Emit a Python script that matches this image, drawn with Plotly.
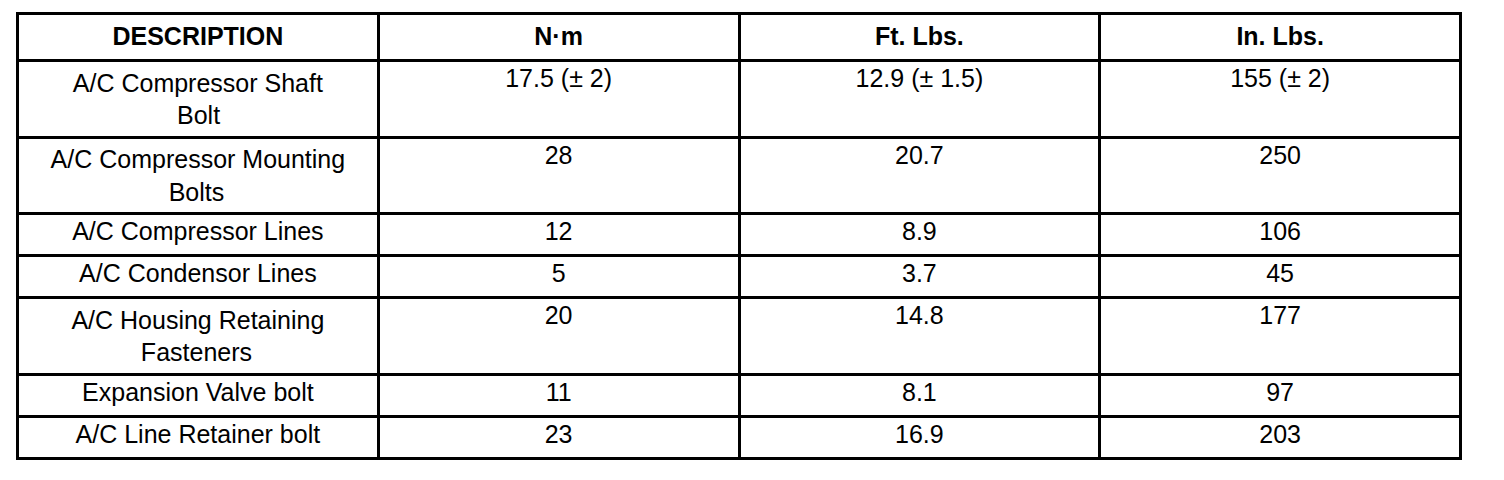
import plotly.graph_objects as go

# Torque specifications table
header_labels = ["DESCRIPTION", "N·m", "Ft. Lbs.", "In. Lbs."]

descriptions = [
    ["A/C Compressor Shaft", "Bolt"],
    ["A/C Compressor Mounting", "Bolts"],
    ["A/C Compressor Lines"],
    ["A/C Condensor Lines"],
    ["A/C Housing Retaining", "Fasteners"],
    ["Expansion Valve bolt"],
    ["A/C Line Retainer bolt"],
]
newton_metres = ["17.5 (± 2)", "28", "12", "5", "20", "11", "23"]
foot_pounds = ["12.9 (± 1.5)", "20.7", "8.9", "3.7", "14.8", "8.1", "16.9"]
inch_pounds = ["155 (± 2)", "250", "106", "45", "177", "97", "203"]

FONT = "Liberation Sans, Arial, Helvetica, sans-serif"

# rough Arial advance widths (1/1000 em), used to centre wrapped lines,
# since plotly tables left-align the lines of a multi-line cell
ARIAL_W = {" ": 278, "/": 278, "A": 667, "B": 667, "C": 722, "F": 611,
           "H": 722, "M": 833, "R": 722, "S": 667, "a": 556, "b": 556,
           "e": 556, "f": 278, "g": 556, "h": 556, "i": 222, "l": 222,
           "m": 833, "n": 556, "o": 556, "p": 556, "r": 333, "s": 500,
           "t": 278, "u": 556}


def text_width(s):
    return sum(ARIAL_W.get(ch, 556) for ch in s)


def centred(lines):
    widest = max(text_width(l) for l in lines)
    out = []
    for l in lines:
        pad = int(round((widest - text_width(l)) / 2 / 278))
        out.append("\u00a0" * pad + l)
    return "<br>".join(out)


# page body adds an 8px margin, so the figure is sized to fit inside it
W, H = 1488, 464

fig = go.Figure()

fig.add_trace(go.Table(
    domain=dict(x=[9.5 / W, 1452.5 / W], y=[0, 1 - 5.5 / H]),
    columnwidth=[1, 1, 1, 1],
    header=dict(
        values=["<b>%s</b>" % h for h in header_labels],
        align="center",
        height=47,
        line=dict(color="black", width=3),
        fill=dict(color="white"),
        font=dict(family=FONT, size=25, color="black"),
    ),
    cells=dict(
        values=[[centred(d) for d in descriptions],
                newton_metres, foot_pounds, inch_pounds],
        align="center",
        height=42,
        line=dict(color="black", width=3),
        fill=dict(color="white"),
        font=dict(family=FONT, size=25, color="black"),
    ),
))

fig.update_layout(
    width=W,
    height=H,
    margin=dict(l=0, r=0, t=0, b=0),
    paper_bgcolor="white",
    plot_bgcolor="white",
)

fig.write_html("out.html")
